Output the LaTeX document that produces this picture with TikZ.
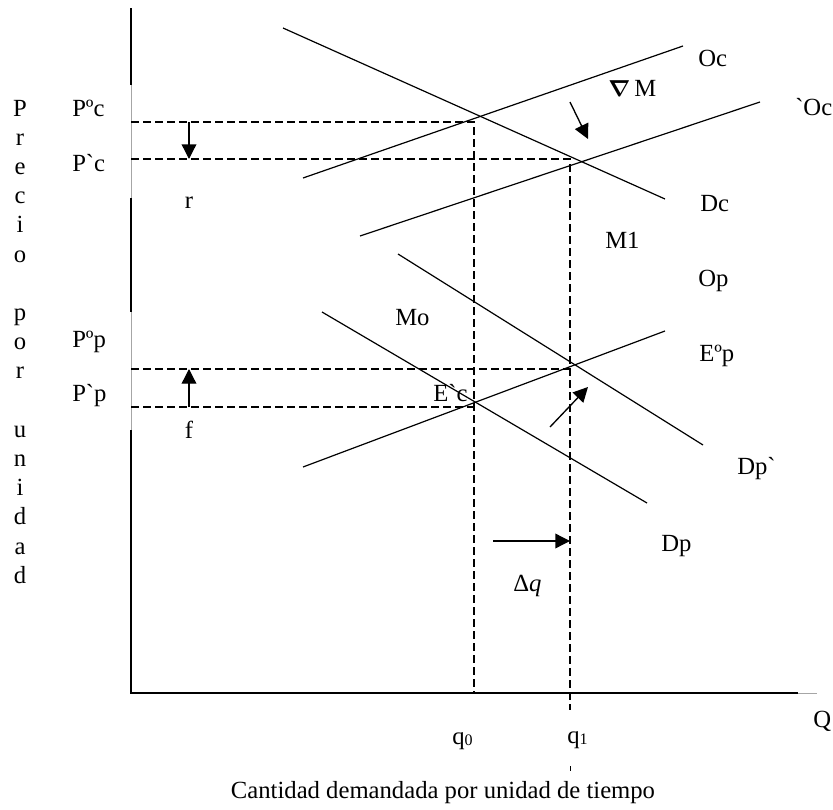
\documentclass[tikz,border=0pt]{standalone}
\usepackage{fontspec}
\usepackage{amsmath}
\newfontfamily\tnr{Liberation Serif}
\usetikzlibrary{arrows.meta}
\begin{document}
\begin{tikzpicture}[x=0.75pt,y=-0.75pt,
  font=\tnr\fontsize{18.5}{21}\selectfont,
  curve/.style={line width=0.9pt},
  guide/.style={line width=0.8pt, dash pattern=on 6pt off 3pt},
  axisline/.style={line width=1pt},
  gapline/.style={line width=0.4pt, gray!70},
  shiftarrow/.style={line width=1pt, -{Triangle[length=11pt,width=11pt]}},
  lbl/.style={inner sep=0pt, anchor=base west}]
\useasboundingbox (0,0) rectangle (833,810);

% axes
\coordinate (ytop) at (131,8);
\coordinate (g1a) at (131,85);
\coordinate (g1b) at (131,198);
\coordinate (g2a) at (131,312);
\coordinate (g2b) at (131,430);
\coordinate (O) at (131,693);
\coordinate (xend) at (798,693);
\coordinate (xtail) at (817,693);
\draw[gapline] (ytop) -- (O);
\draw[axisline] (ytop) -- (g1a);
\draw[axisline] (g1b) -- (g2a);
\draw[axisline] (g2b) -- (O) -- (xend);
\draw[gapline] (xend) -- (xtail);

% curves
\coordinate (Dc1) at (283,28);   \coordinate (Dc2) at (665,199);
\coordinate (Oc1) at (303,178);  \coordinate (Oc2) at (683,46);
\coordinate (Ocb1) at (360,236); \coordinate (Ocb2) at (760,102);
\coordinate (Dpb1) at (398,254); \coordinate (Dpb2) at (703,445);
\coordinate (Dp1) at (322,312);  \coordinate (Dp2) at (647,503);
\coordinate (Op1) at (303,467);  \coordinate (Op2) at (665,331);
\draw[curve] (Dc1) -- (Dc2);
\draw[curve] (Oc1) -- (Oc2);
\draw[curve] (Ocb1) -- (Ocb2);
\draw[curve] (Dpb1) -- (Dpb2);
\draw[curve] (Dp1) -- (Dp2);
\draw[curve] (Op1) -- (Op2);

% guide lines
\coordinate (hPc0) at (131,122); \coordinate (cPc0) at (474,122); \coordinate (q0ax) at (474,693);
\coordinate (hPc1) at (131,159); \coordinate (cPc1) at (570,159); \coordinate (q1ax) at (570,710);
\coordinate (hPp0) at (131,369); \coordinate (cPp0) at (570,369);
\coordinate (hPp1) at (131,407); \coordinate (cPp1) at (474,407);
\draw[guide] (hPc0) -- (cPc0) -- (q0ax);
\draw[guide] (hPc1) -- (cPc1) -- (q1ax);
\draw[guide] (hPp0) -- (cPp0);
\draw[guide] (hPp1) -- (cPp1);
\coordinate (tk1) at (570,766); \coordinate (tk2) at (570,771);
\draw[line width=0.6pt] (tk1) -- (tk2);

% shift arrows
\coordinate (ra) at (189,122); \coordinate (rb) at (189,159);
\coordinate (fa) at (189,407); \coordinate (fb) at (189,369);
\coordinate (ma) at (570,102); \coordinate (mb) at (588,139);
\coordinate (ea) at (550,427); \coordinate (eb) at (588,387);
\coordinate (qa) at (493,541); \coordinate (qb) at (570,541);
\draw[shiftarrow] (ra) -- (rb);
\draw[shiftarrow] (fa) -- (fb);
\draw[shiftarrow] (ma) -- (mb);
\draw[shiftarrow] (ea) -- (eb);
\draw[shiftarrow] (qa) -- (qb);

% price labels
\node[lbl] (lPc0) at (72,116) {Pºc};
\node[lbl] (lPc1) at (72,171) {P`c};
\node[lbl] (lPp0) at (72,347) {Pºp};
\node[lbl] (lPp1) at (72,401) {P`p};
\node[inner sep=0pt, anchor=base] (lr) at (189,208) {r};
\node[inner sep=0pt, anchor=base] (lf) at (189,438) {f};

% curve labels
\node[lbl] (lOc) at (698,66) {Oc};
\node[lbl] (lnM) at (608,96) {$\boldsymbol{\nabla}$\,M};
\node[lbl] (lOcb) at (795,115) {`Oc};
\node[lbl] (lDc) at (700,211) {Dc};
\node[lbl] (lM1) at (605,248) {M1};
\node[lbl] (lOp) at (698,286) {Op};
\node[lbl] (lMo) at (395,325) {Mo};
\node[lbl] (lEc) at (433,401) {E`c};
\node[lbl] (lEp) at (699,361) {Eºp};
\node[lbl] (lDpb) at (737,474) {Dp`};
\node[lbl] (lDp) at (661,551) {Dp};
\node[lbl] (ldq) at (513,591) {Δ\textit{q}};

% quantity labels
\node[lbl] (lq0) at (452,744) {q{\fontsize{12}{12}\selectfont\raisebox{-1pt}{0}}};
\node[lbl] (lq1) at (567,743) {q{\fontsize{12}{12}\selectfont\raisebox{-1pt}{1}}};
\node[lbl] (lQ) at (813,727) {Q};
\node[inner sep=0pt, anchor=base] (lcap) at (443,798) {Cantidad demandada por unidad de tiempo};

% vertical axis title
\foreach \ch [count=\i] in {P,r,e,c,i,o,{},p,o,r,{},u,n,i,d,a,d}
  \node[inner sep=0pt, anchor=base] (v\i) at (20,{116+29.2*(\i-1)}) {\ch};
\end{tikzpicture}
\end{document}
